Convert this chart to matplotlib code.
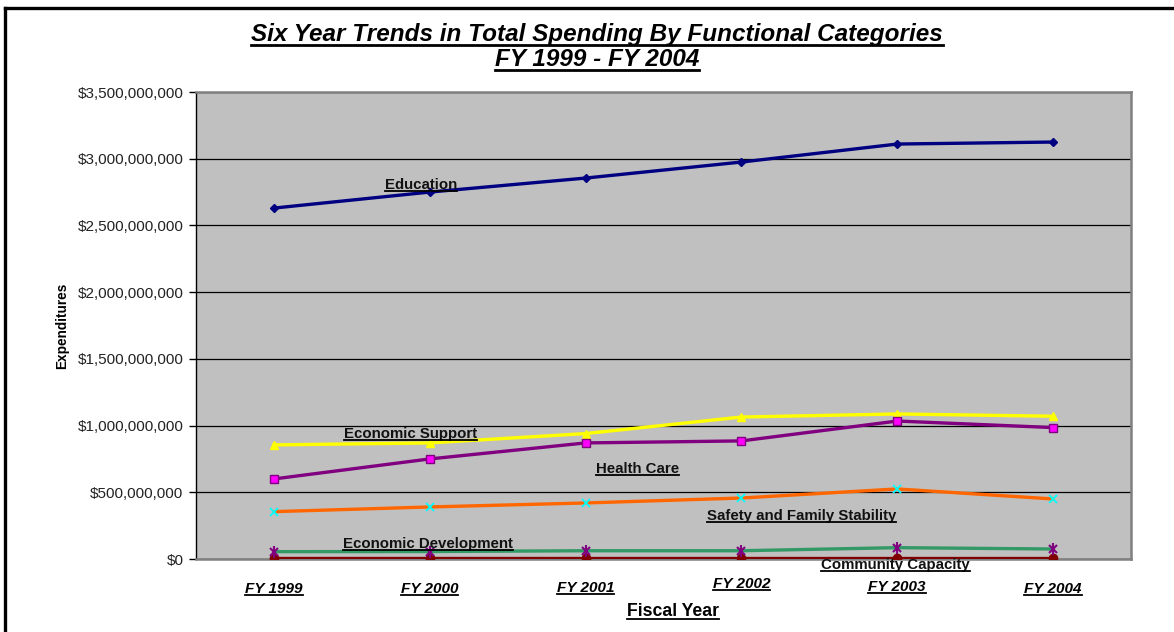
import matplotlib
matplotlib.use("Agg")
import matplotlib.pyplot as plt
from matplotlib.lines import Line2D
from matplotlib.ticker import FuncFormatter, MultipleLocator
import matplotlib.transforms as mtransforms

plt.rcParams['font.family'] = ['Liberation Sans', 'DejaVu Sans']

# data
years = ['FY 1999', 'FY 2000', 'FY 2001', 'FY 2002', 'FY 2003', 'FY 2004']
education = [2.63e9, 2.75e9, 2.855e9, 2.975e9, 3.11e9, 3.125e9]
economic_support = [0.855e9, 0.87e9, 0.94e9, 1.064e9, 1.087e9, 1.07e9]
health_care = [0.60e9, 0.75e9, 0.87e9, 0.885e9, 1.034e9, 0.985e9]
safety_family = [0.355e9, 0.39e9, 0.42e9, 0.457e9, 0.525e9, 0.45e9]
economic_dev = [0.055e9, 0.056e9, 0.062e9, 0.062e9, 0.085e9, 0.075e9]
community_cap = [0.01e9, 0.01e9, 0.01e9, 0.01e9, 0.01e9, 0.01e9]

W, H = 1174, 632
fig = plt.figure(figsize=(W / 100, H / 100), dpi=100)
ax = fig.add_axes([196 / W, 1 - 559 / H, (1131 - 196) / W, (559 - 92) / H])
ax.set_facecolor('#C0C0C0')

x = list(range(len(years)))
lw = 2.4
ax.plot(x, education, color='#000080', lw=lw, marker='D', ms=4,
        mfc='#000080', mec='#000080', zorder=5)
ax.plot(x, economic_support, color='#FFFF00', lw=lw, marker='^', ms=6,
        mfc='#FFFF00', mec='#FFFF00', zorder=4)
ax.plot(x, health_care, color='#800080', lw=lw, marker='s', ms=6,
        mfc='#FF00FF', mec='#800080', mew=1, zorder=4)
ax.plot(x, safety_family, color='#FF6600', lw=lw, marker='x', ms=6,
        mec='#00FFFF', mew=1.3, zorder=4)
ax.plot(x, community_cap, color='#800000', lw=lw, marker='o', ms=6,
        mfc='#800000', mec='#800000', zorder=4)
# star marker = x plus a vertical bar
ax.plot(x, economic_dev, color='#339966', lw=lw, marker='x', ms=6,
        mec='#800080', mew=1.5, zorder=4)
ax.plot(x, economic_dev, ls='none', marker='|', ms=8,
        mec='#800080', mew=1.5, zorder=4)

ax.set_xlim(-0.5, len(years) - 0.5)
ax.set_ylim(0, 3.5e9)
ax.yaxis.set_major_locator(MultipleLocator(5e8))
ax.yaxis.set_major_formatter(FuncFormatter(lambda v, p: '${:,.0f}'.format(v)))
ax.grid(axis='y', color='black', lw=0.9)
ax.set_axisbelow(True)
ax.set_xticks([])
ax.tick_params(axis='y', direction='out', length=5, width=1, labelsize=11,
               pad=4, colors='black')
for lab in ax.get_yticklabels():
    lab.set_color('#222222')

for s in ['top', 'right', 'bottom']:
    ax.spines[s].set_color('#808080')
    ax.spines[s].set_linewidth(1.8)
ax.spines['left'].set_color('black')
ax.spines['left'].set_linewidth(1.0)

underlined = []

# category labels under the axis, slightly staggered like the original
lab_drop = [30, 30, 29, 25, 28, 30]
for i, name in enumerate(years):
    tr = ax.get_xaxis_transform() + mtransforms.ScaledTranslation(
        0, -lab_drop[i] / 100, fig.dpi_scale_trans)
    t = ax.text(i, 0, name, transform=tr, ha='center', va='center',
                fontsize=11, fontweight='bold', fontstyle='italic')
    underlined.append(t)

t = fig.text(673 / W, 1 - 612 / H, 'Fiscal Year', ha='center', va='center',
             fontsize=12.7, fontweight='bold')
underlined.append(t)
fig.text(62 / W, 1 - 326 / H, 'Expenditures', ha='center', va='center',
         rotation=90, fontsize=9.8, fontweight='bold')

t1 = fig.text(597 / W, 1 - 35 / H, 'Six Year Trends in Total Spending By Functional Categories',
              ha='center', va='center', fontsize=17.5, fontweight='bold', fontstyle='italic')
t2 = fig.text(597 / W, 1 - 60 / H, 'FY 1999 - FY 2004', ha='center', va='center',
              fontsize=17.5, fontweight='bold', fontstyle='italic')
underlined += [t1, t2]

# series labels placed on the chart
series_labels = [('Education', 385, 185), ('Economic Support', 344, 434),
                 ('Health Care', 596, 469), ('Safety and Family Stability', 707, 516),
                 ('Economic Development', 343, 544), ('Community Capacity', 821, 565)]
for name, px, py in series_labels:
    t = fig.text(px / W, 1 - py / H, name, ha='left', va='center',
                 fontsize=10.8, fontweight='bold', color='#111111', zorder=10)
    underlined.append(t)

# underline all the texts that carry it in the original
fig.canvas.draw()
r = fig.canvas.get_renderer()
for t in underlined:
    bb = t.get_window_extent(r)
    yy = bb.y0 + 1.5
    lw_u = 2.0 if t.get_fontsize() >= 14 else 1.3
    fig.add_artist(Line2D([bb.x0 / W, bb.x1 / W], [yy / H, yy / H],
                          transform=fig.transFigure, color='black', lw=lw_u, zorder=11))

# outer frame (top and left edges visible)
fig.add_artist(Line2D([4.5 / W, 1], [1 - 7.5 / H, 1 - 7.5 / H],
                      transform=fig.transFigure, color='black', lw=2.4))
fig.add_artist(Line2D([4.5 / W, 4.5 / W], [0, 1 - 7.5 / H],
                      transform=fig.transFigure, color='black', lw=2.4))

fig.savefig('out.png', dpi=100)
